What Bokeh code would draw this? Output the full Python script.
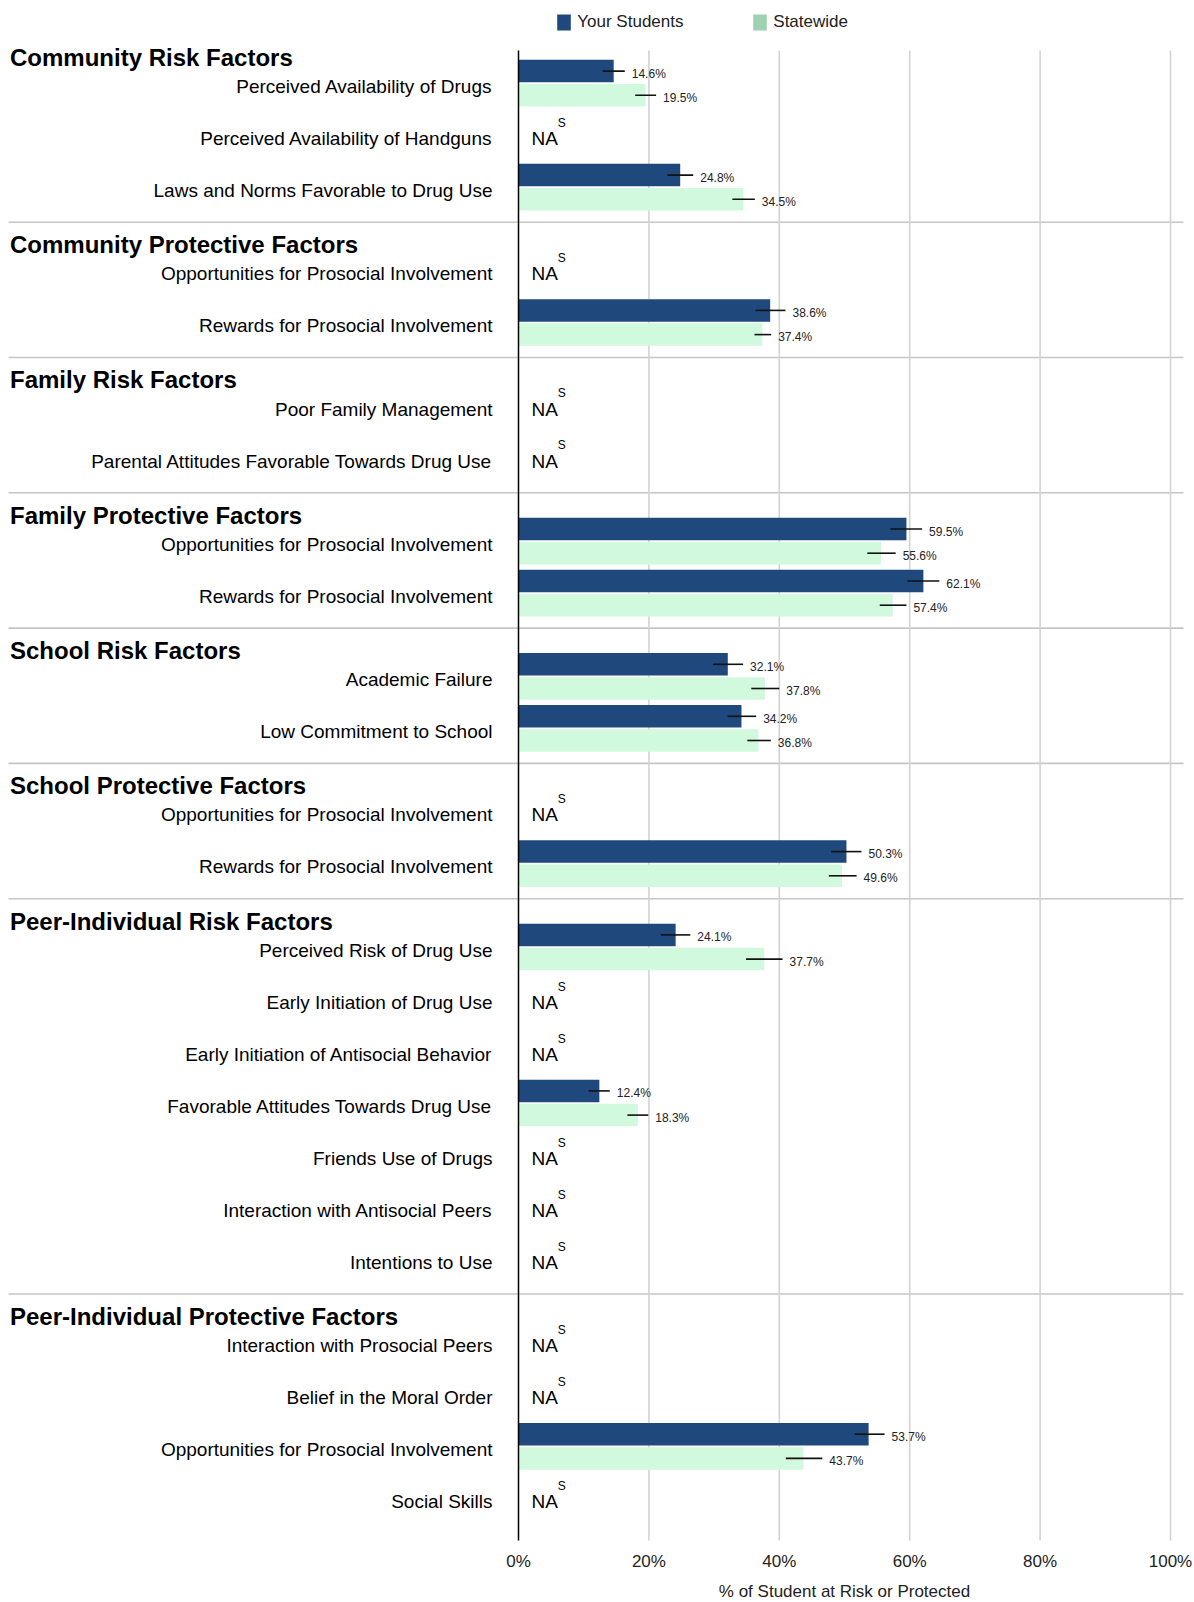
from bokeh.plotting import figure
from bokeh.models import Range1d, ColumnDataSource, Legend, LegendItem
from bokeh.core.properties import value
from bokeh.embed import file_html
from bokeh.resources import INLINE

# ---------------- data ----------------
section_names = [
    "Community Risk Factors",
    "Community Protective Factors",
    "Family Risk Factors",
    "Family Protective Factors",
    "School Risk Factors",
    "School Protective Factors",
    "Peer-Individual Risk Factors",
    "Peer-Individual Protective Factors",
]
section_sizes = [3, 2, 2, 2, 2, 2, 7, 4]

factor_labels = [
    "Perceived Availability of Drugs",
    "Perceived Availability of Handguns",
    "Laws and Norms Favorable to Drug Use",
    "Opportunities for Prosocial Involvement",
    "Rewards for Prosocial Involvement",
    "Poor Family Management",
    "Parental Attitudes Favorable Towards Drug Use",
    "Opportunities for Prosocial Involvement",
    "Rewards for Prosocial Involvement",
    "Academic Failure",
    "Low Commitment to School",
    "Opportunities for Prosocial Involvement",
    "Rewards for Prosocial Involvement",
    "Perceived Risk of Drug Use",
    "Early Initiation of Drug Use",
    "Early Initiation of Antisocial Behavior",
    "Favorable Attitudes Towards Drug Use",
    "Friends Use of Drugs",
    "Interaction with Antisocial Peers",
    "Intentions to Use",
    "Interaction with Prosocial Peers",
    "Belief in the Moral Order",
    "Opportunities for Prosocial Involvement",
    "Social Skills",
]

your_pct = [14.6, None, 24.8, None, 38.6, None, None, 59.5, 62.1, 32.1, 34.2, None,
            50.3, 24.1, None, None, 12.4, None, None, None, None, None, 53.7, None]
your_err_lo = [1.7, None, 1.95, None, 2.25, None, None, 2.45, 2.45, 2.25, 2.15, None,
               2.35, 2.25, None, None, 1.65, None, None, None, None, None, 2.15, None]
your_err_hi = [1.7, None, 2.0, None, 2.35, None, None, 2.4, 2.45, 2.35, 2.25, None,
               2.3, 2.25, None, None, 1.6, None, None, None, None, None, 2.45, None]

state_pct = [19.5, None, 34.5, None, 37.4, None, None, 55.6, 57.4, 37.8, 36.8, None,
             49.6, 37.7, None, None, 18.3, None, None, None, None, None, 43.7, None]
state_err_lo = [1.6, None, 1.7, None, 1.2, None, None, 2.1, 2.0, 2.1, 1.7, None,
                2.0, 2.8, None, None, 1.6, None, None, None, None, None, 2.7, None]
state_err_hi = [1.6, None, 1.75, None, 1.35, None, None, 2.25, 2.1, 2.2, 1.9, None,
                2.25, 2.8, None, None, 1.6, None, None, None, None, None, 2.9, None]

tick_values = [0, 20, 40, 60, 80, 100]
tick_labels = ["0%", "20%", "40%", "60%", "80%", "100%"]
legend_labels = ["Your Students", "Statewide"]
x_title = "% of Student at Risk or Protected"
na_text = "NA"
na_sup = "S"

# ---------------- style ----------------
NAVY = "#1f497d"
STATE_BAR = "#d1f9dd"
STATE_LEGEND = "#9dd1b0"
GRID = "#d3d3d3"
SEP = "#c6c6c6"
FONT = value("Liberation Sans")

W, H = 1194, 1602
X0_PX = 518.0
PX_PER_PCT = 6.52
LEFT_PX = 8.0
x_start = -X0_PX / PX_PER_PCT
x_end = (W - X0_PX) / PX_PER_PCT
x_left = (LEFT_PX - X0_PX) / PX_PER_PCT
sep_right = (1183 - X0_PX) / PX_PER_PCT

FIRST_ROW = 82.7
PITCH = 52.0
SECTION_GAP = 83.3
SEP_AFTER = 35.0
BAR_OFF = 12.1
BAR_H = 22.5
GRID_TOP = 50
GRID_BOT = 1540
SHIFT = 0.37  # baseline correction (em) for svg text placement


def up(size):
    return SHIFT * size


# ---------------- layout ----------------
row_y, header_y, sep_y = [], [], []
for s, n in enumerate(section_sizes):
    start = FIRST_ROW if s == 0 else row_y[-1] + SECTION_GAP
    header_y.append(start - 17)
    for k in range(n):
        row_y.append(start + k * PITCH)
    if s < len(section_sizes) - 1:
        sep_y.append(row_y[-1] + SEP_AFTER)

p = figure(width=W, height=H, output_backend="svg", toolbar_location=None,
           x_range=Range1d(x_start, x_end), y_range=Range1d(H, 0),
           x_axis_location=None, y_axis_location=None, min_border=0)
p.grid.visible = False
p.outline_line_color = None
p.background_fill_color = "white"
p.border_fill_color = "white"

p.segment(x0=[x_left] * len(sep_y), x1=[sep_right] * len(sep_y), y0=sep_y, y1=sep_y,
          line_color=SEP, line_width=1.6)

grid_ticks = tick_values[1:]
p.segment(x0=grid_ticks, x1=grid_ticks, y0=[GRID_TOP] * len(grid_ticks),
          y1=[GRID_BOT] * len(grid_ticks), line_color=GRID, line_width=1.6)


def series_source(vals, lo, hi, off):
    idx = [i for i, v in enumerate(vals) if v is not None]
    ys = [row_y[i] + off for i in idx]
    return ColumnDataSource(dict(
        y=ys,
        right=[vals[i] for i in idx],
        x0=[vals[i] - lo[i] for i in idx],
        x1=[vals[i] + hi[i] for i in idx],
        ty=[y + 7 - up(12) for y in ys],
        lbl=[f"{vals[i]:.1f}%" for i in idx],
    ))


src_you = series_source(your_pct, your_err_lo, your_err_hi, -BAR_OFF)
src_state = series_source(state_pct, state_err_lo, state_err_hi, BAR_OFF)

for src, col in ((src_you, NAVY), (src_state, STATE_BAR)):
    p.hbar(y="y", left=0, right="right", height=BAR_H, fill_color=col, line_color=None, source=src)
for src in (src_you, src_state):
    p.segment(x0="x0", x1="x1", y0="y", y1="y", line_color="#111111", line_width=1.6, source=src)
    p.text(x="x1", y="ty", text="lbl", x_offset=7, text_font=FONT, text_font_size="12px",
           text_color="#222222", text_align="left", text_baseline="alphabetic", source=src)

# zero axis line
p.segment(x0=[0], x1=[0], y0=[GRID_TOP], y1=[GRID_BOT], line_color="black", line_width=1.5)

# row labels
p.text(x=[0] * len(row_y), y=[y + 10.3 - up(19) for y in row_y], text=factor_labels, x_offset=-26,
       text_font=FONT, text_font_size="19px", text_color="#000000",
       text_align="right", text_baseline="alphabetic")

# section headers
p.text(x=[x_left] * len(header_y), y=[y - up(24) for y in header_y], text=section_names, x_offset=1.5,
       text_font=FONT, text_font_size="24px", text_font_style="bold", text_color="#000000",
       text_align="left", text_baseline="alphabetic")

# NA markers
na_rows = [row_y[i] for i, v in enumerate(your_pct) if v is None]
p.text(x=[0] * len(na_rows), y=[y + 10.3 - up(19) for y in na_rows], text=[na_text] * len(na_rows),
       x_offset=13, text_font=FONT, text_font_size="19px", text_color="#000000",
       text_align="left", text_baseline="alphabetic")
p.text(x=[0] * len(na_rows), y=[y - 8 - up(12) for y in na_rows], text=[na_sup] * len(na_rows),
       x_offset=39.3, text_font=FONT, text_font_size="12px", text_color="#000000",
       text_align="left", text_baseline="alphabetic")

# x tick labels and title
p.text(x=tick_values, y=[1567.5 - up(17)] * len(tick_values), text=tick_labels, text_font=FONT,
       text_font_size="17px", text_color="#222222", text_align="center", text_baseline="alphabetic")
p.text(x=[(tick_values[0] + tick_values[-1]) / 2], y=[1597 - up(17)], text=[x_title], text_font=FONT,
       text_font_size="17px", text_color="#222222", text_align="center", text_baseline="alphabetic")

# legend (two single-item legends; zero-width proxy bars carry the legend colours)
r_you = p.hbar(y=[GRID_TOP], left=[0], right=[0], height=1, fill_color=NAVY, line_color=None)
r_state = p.hbar(y=[GRID_TOP], left=[0], right=[0], height=1, fill_color=STATE_LEGEND, line_color=None)
for lbl, rend, lx in ((legend_labels[0], r_you, 555.3), (legend_labels[1], r_state, 751.3)):
    lg = Legend(items=[LegendItem(label=lbl, renderers=[rend], index=0)], location=(lx, H - 32.3),
                orientation="horizontal", padding=0, margin=0, spacing=0,
                glyph_width=17, glyph_height=20, label_height=20, label_standoff=5,
                label_text_font="Liberation Sans", label_text_font_size="17px",
                label_text_color="#222222",
                background_fill_alpha=0, border_line_alpha=0)
    p.add_layout(lg)

open("out.html", "w").write(file_html(p, INLINE))
